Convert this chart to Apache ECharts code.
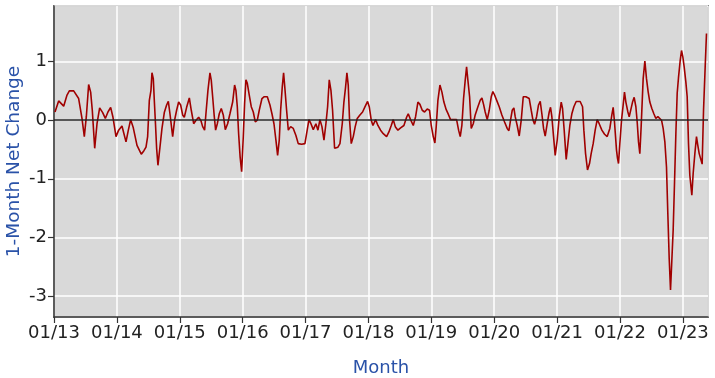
<!DOCTYPE html>
<html>
<head>
<meta charset="utf-8">
<script src="https://cdn.jsdelivr.net/npm/echarts@6/dist/echarts.min.js"></script>
<style>
html,body{margin:0;padding:0;background:#fff;}
#c{width:715px;height:378px;}
</style>
</head>
<body>
<div id="c"></div>
<script>
// Time position in years after Jan 2013 (decimal)
const yearOffsets = [
0.016,0.074,0.154,0.207,0.244,0.313,0.392,0.445,0.482,0.514,0.551,0.583,0.609,0.647,0.684,0.726,0.774,0.816,0.858,0.901,0.938,0.986,
1.028,1.081,1.145,1.182,1.219,1.261,1.320,1.388,1.430,1.463,1.489,1.516,1.542,1.558,1.579,1.595,1.611,1.632,1.653,1.685,1.717,1.754,1.791,1.818,1.844,1.887,1.918,1.950,1.982,
2.014,2.046,2.072,2.109,2.152,2.183,2.221,2.258,2.300,2.337,2.364,2.395,2.416,2.448,2.480,2.501,2.523,2.549,2.570,2.597,2.628,2.660,2.692,2.724,2.761,2.798,2.841,2.872,2.893,2.915,2.936,2.960,2.984,
3.010,3.031,3.052,3.074,3.105,3.137,3.169,3.201,3.233,3.264,3.307,3.339,3.392,3.434,3.466,3.498,3.529,3.556,3.582,3.604,3.630,3.651,3.672,3.699,3.726,3.763,3.805,3.847,3.884,3.938,3.990,
4.017,4.054,4.086,4.123,4.165,4.197,4.229,4.261,4.293,4.324,4.351,4.377,4.404,4.430,4.462,4.478,4.515,4.547,4.584,4.610,4.637,4.658,4.679,4.700,4.727,4.759,4.790,4.822,4.865,4.907,4.950,4.987,
5.013,5.045,5.072,5.114,5.151,5.193,5.236,5.289,5.326,5.363,5.395,5.427,5.469,5.512,5.564,5.607,5.633,5.670,5.713,5.750,5.787,5.819,5.856,5.893,5.935,5.972,5.999,
6.031,6.057,6.078,6.105,6.137,6.169,6.200,6.237,6.275,6.306,6.359,6.402,6.434,6.460,6.486,6.513,6.539,6.561,6.582,6.609,6.635,6.667,6.698,6.741,6.778,6.805,6.831,6.857,6.889,6.921,6.953,6.979,
7.006,7.043,7.080,7.122,7.165,7.207,7.234,7.260,7.287,7.313,7.334,7.366,7.398,7.430,7.462,7.504,7.557,7.589,7.615,7.642,7.674,7.705,7.732,7.758,7.785,7.811,7.843,7.875,7.896,7.917,7.944,7.970,
8.002,8.034,8.066,8.087,8.113,8.145,8.172,8.203,8.235,8.267,8.304,8.367,8.405,8.426,8.453,8.484,8.516,8.542,8.574,8.606,8.638,8.670,8.712,8.755,8.797,8.839,8.871,8.892,8.913,8.945,8.961,8.977,8.998,
9.025,9.051,9.072,9.094,9.126,9.147,9.173,9.200,9.226,9.253,9.274,9.295,9.316,9.337,9.369,9.396,9.422,9.449,9.475,9.507,9.539,9.571,9.603,9.634,9.661,9.687,9.714,9.740,9.761,9.783,9.804,9.825,9.846,9.868,9.889,9.910,9.931,9.958,9.979,
10.000,10.021,10.048,10.069,10.090,10.111,10.143,10.164,10.191,10.217,10.238,10.260,10.286,10.307,10.329,10.355,10.376
];
const netChange = [
0.14,0.33,0.24,0.43,0.50,0.50,0.37,0.03,-0.28,0.06,0.61,0.48,0.17,-0.48,-0.06,0.21,0.13,0.03,0.14,0.22,0.05,-0.28,
-0.17,-0.10,-0.37,-0.17,0.01,-0.13,-0.43,-0.58,-0.52,-0.46,-0.28,0.34,0.51,0.81,0.71,0.34,0,-0.48,-0.77,-0.46,-0.14,0.13,0.26,0.32,0.11,-0.28,0,0.17,0.31,
0.26,0.09,0.05,0.22,0.38,0.17,-0.06,0,0.05,-0.01,-0.11,-0.17,0.11,0.51,0.81,0.68,0.40,0.06,-0.17,-0.06,0.11,0.20,0.09,-0.16,-0.06,0.11,0.31,0.60,0.51,0.23,-0.23,-0.63,-0.88,
-0.28,0.28,0.69,0.63,0.43,0.23,0.14,-0.03,0,0.17,0.37,0.40,0.40,0.26,0.11,-0.06,-0.34,-0.60,-0.34,0.17,0.57,0.81,0.54,0.17,-0.17,-0.11,-0.14,-0.26,-0.40,-0.41,-0.40,
-0.23,0.01,-0.06,-0.16,-0.06,-0.17,0.01,-0.11,-0.34,-0.06,0.23,0.69,0.51,0.17,-0.48,-0.48,-0.46,-0.40,-0.06,0.31,0.57,0.81,0.60,0,-0.40,-0.28,-0.11,0.03,0.09,0.14,0.24,0.32,
0.23,0,-0.09,0.01,-0.09,-0.17,-0.23,-0.28,-0.20,-0.09,0.01,-0.11,-0.17,-0.13,-0.09,0.05,0.11,0.01,-0.09,0.06,0.31,0.27,0.17,0.14,0.19,0.17,-0.09,
-0.28,-0.39,-0.11,0.34,0.60,0.48,0.31,0.18,0.09,0.01,0.01,0.01,-0.17,-0.28,-0.09,0.37,0.68,0.91,0.68,0.40,-0.14,-0.06,0.09,0.23,0.34,0.38,0.27,0.14,0.01,0.17,0.40,0.49,
0.43,0.33,0.23,0.09,-0.03,-0.14,-0.18,0,0.17,0.21,0.06,-0.09,-0.27,0,0.40,0.40,0.37,0.17,0.01,-0.07,0.06,0.26,0.32,0.11,-0.14,-0.27,-0.06,0.14,0.22,0.06,-0.28,-0.60,
-0.34,0.06,0.31,0.20,-0.17,-0.67,-0.40,-0.09,0.11,0.23,0.32,0.32,0.23,-0.17,-0.57,-0.85,-0.74,-0.57,-0.40,-0.17,0.01,-0.06,-0.17,-0.24,-0.28,-0.14,0.09,0.22,-0.03,-0.51,-0.65,-0.74,-0.40,
0,0.26,0.48,0.31,0.14,0.06,0.18,0.31,0.39,0.23,-0.03,-0.37,-0.57,-0.11,0.71,1.01,0.71,0.48,0.31,0.20,0.11,0.03,0.06,0.09,0,-0.14,-0.37,-0.80,-1.59,-2.36,-2.90,-2.39,-1.88,-1.05,-0.23,0.46,0.73,1.02,1.19,
1.08,0.91,0.65,0.40,-0.40,-0.94,-1.28,-0.91,-0.57,-0.28,-0.43,-0.57,-0.60,-0.75,0.17,0.91,1.48
];
const startYear = 2013;
const endYear = 2023.40;
const yMin = -3.36, yMax = 1.95;
const xTitle = 'Month';
const yTitle = '1-Month Net Change';

const seriesData = yearOffsets.map((t, i) => [startYear + t, netChange[i]]);

const chart = echarts.init(document.getElementById('c'), null, {renderer: 'canvas'});
const font = 'DejaVu Sans';
chart.setOption({
  animation: false,
  backgroundColor: '#ffffff',
  grid: {left: 54, right: 7, top: 6, bottom: 61, show: true, containLabel: false, outerBoundsMode: 'none',
         backgroundColor: '#d9d9d9', borderColor: '#333333', borderWidth: 1.5},
  xAxis: {
    type: 'value', min: startYear, max: endYear, interval: 1,
    name: xTitle, nameLocation: 'middle', nameGap: 42, nameMoveOverlap: false,
    nameTextStyle: {color: '#2a52a8', fontFamily: font, fontSize: 18},
    axisLine: {show: true, onZero: false, lineStyle: {color: '#333333', width: 1.5}},
    axisTick: {show: true, length: 6, lineStyle: {color: '#333333', width: 1.2}},
    axisLabel: {show: true, showMaxLabel: false, margin: 7, color: '#222222', fontFamily: font, fontSize: 18,
      formatter: v => '01/' + String(Math.round(v)).slice(2)},
    splitLine: {show: true, lineStyle: {color: '#ffffff', width: 1.5}}
  },
  yAxis: {
    type: 'value', min: yMin, max: yMax,
    name: yTitle, nameLocation: 'middle', nameGap: 30, nameMoveOverlap: false,
    nameTextStyle: {color: '#2a52a8', fontFamily: font, fontSize: 18.5},
    axisLine: {show: true, lineStyle: {color: '#333333', width: 1.5}},
    axisTick: {show: true, length: 6, lineStyle: {color: '#333333', width: 1.2}},
    axisLabel: {show: true, showMinLabel: false, showMaxLabel: false, margin: 7, color: '#222222', fontFamily: font, fontSize: 18},
    splitLine: {show: true, lineStyle: {color: '#ffffff', width: 1.5}}
  },
  series: [{
    type: 'line', data: seriesData, showSymbol: false, symbol: 'none',
    lineStyle: {color: '#a00000', width: 1.6},
    markLine: {silent: true, symbol: 'none', label: {show: false},
      lineStyle: {color: '#222222', width: 1.5, type: 'solid'},
      data: [{yAxis: 0}]}
  }]
});
</script>
</body>
</html>
